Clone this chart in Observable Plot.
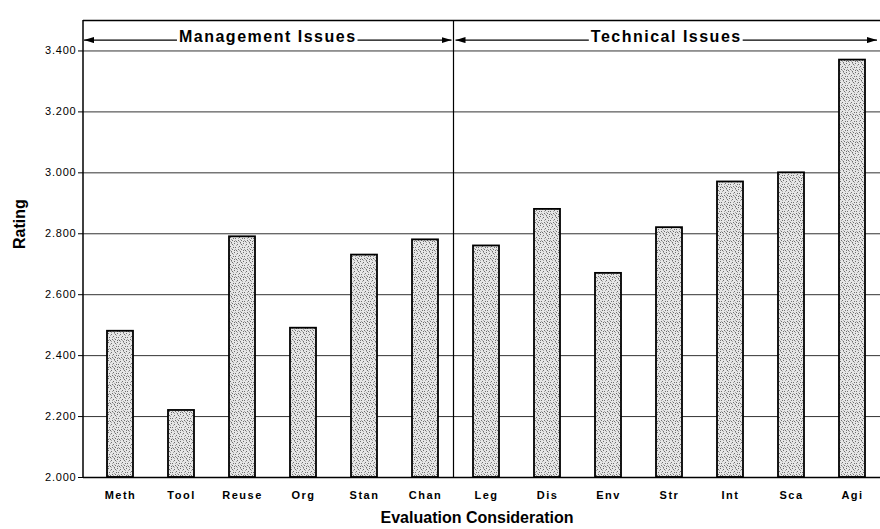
<!DOCTYPE html>
<html><head><meta charset="utf-8">
<script src="https://cdn.jsdelivr.net/npm/d3@7"></script>
<script src="https://cdn.jsdelivr.net/npm/@observablehq/plot@0.6"></script>
<style>
html,body{margin:0;padding:0;background:#fff;}
#chart svg{display:block;}
#chart g[aria-label="y-axis tick label"] text{letter-spacing:0.8px;}
#chart g[aria-label="x-axis tick label"] text{letter-spacing:1.5px;}
</style></head><body><div id="chart"></div>
<script>
const categories = ["Meth","Tool","Reuse","Org","Stan","Chan","Leg","Dis","Env","Str","Int","Sca","Agi"];
const ratings = [2.48,2.22,2.79,2.49,2.73,2.78,2.76,2.88,2.67,2.82,2.97,3.00,3.37];
const groupLabels = ["Management Issues","Technical Issues"];
const groupFirst = ["Meth","Leg"];
const groupLast = ["Chan","Agi"];
const yTicks = [2.0,2.2,2.4,2.6,2.8,3.0,3.2,3.4];
const yDomain = [2.0,3.5];
const xLabel = "Evaluation Consideration";
const yLabel = "Rating";

const data = categories.map((c,i)=>({category:c, rating:ratings[i]}));
const W = 880, H = 529, ML = 83, MT = 20, MB = 52;
const font = "Arial, 'Liberation Sans', Helvetica, sans-serif";

const chart = Plot.plot({
  width: W, height: H, marginLeft: ML, marginRight: 0, marginTop: MT, marginBottom: MB,
  style: {fontFamily: font, background: "#fff", color: "#000", overflow: "visible"},
  x: {domain: categories, range: [ML, 888], paddingInner: 0.58, paddingOuter: 0.3, axis: null},
  y: {domain: yDomain, axis: null},
  marks: [
    Plot.ruleY(yTicks, {stroke: "#333", strokeWidth: 1}),
    Plot.barY(data, {x: "category", y1: yDomain[0], y2: "rating", fill: "url(#stipple)", stroke: "#000", strokeWidth: 1.8}),
    Plot.ruleY([yDomain[0]], {stroke: "#000", strokeWidth: 1.5}),
    Plot.ruleY([yDomain[1]], {stroke: "#000", strokeWidth: 1.5}),
    Plot.axisY({ticks: yTicks, tickFormat: d3.format(".3f"), tickSize: 5, tickPadding: 2, fontSize: 11, label: null}),
    Plot.axisX({tickSize: 0, tickPadding: 14, fontSize: 11, fontWeight: "bold", label: null}),
    Plot.text([yLabel], {frameAnchor: "left", rotate: -90, dx: -64, fontSize: 16, fontWeight: "bold"}),
    Plot.text([xLabel], {frameAnchor: "bottom", lineAnchor: "middle", dy: 40, dx: -5, fontSize: 16, fontWeight: "bold", style: "letter-spacing:0.6px"})
  ]
});
document.getElementById("chart").appendChild(chart);

const xs = chart.scale("x"), ys = chart.scale("y");
const svg = d3.select(chart);
const defs = svg.insert("defs", ":first-child");
const T = 9;
const pat = defs.append("pattern").attr("id", "stipple").attr("patternUnits", "userSpaceOnUse").attr("width", T).attr("height", T);
pat.append("rect").attr("width", T).attr("height", T).attr("fill", "#e6e6e6");
const darkDots = [[0,0],[3,1],[7,1],[5,3],[1,4],[8,4],[4,6],[2,7],[6,8],[0,7],[7,6]];
const midDots = [[2,2],[6,0],[4,4],[8,2],[1,6],[5,7],[3,8],[6,5]];
darkDots.forEach(([a,b]) => pat.append("rect").attr("x", a).attr("y", b).attr("width", 1).attr("height", 1).attr("fill", "#6e6e6e"));
midDots.forEach(([a,b]) => pat.append("rect").attr("x", a).attr("y", b).attr("width", 1).attr("height", 1).attr("fill", "#a8a8a8"));
const mk = defs.append("marker").attr("id", "arrowhead").attr("viewBox", "0 0 10 6").attr("refX", 10).attr("refY", 3)
  .attr("markerWidth", 10).attr("markerHeight", 6).attr("markerUnits", "userSpaceOnUse").attr("orient", "auto-start-reverse");
mk.append("path").attr("d", "M0,0L10,3L0,6Z").attr("fill", "#000");

const yTop = ys.apply(yDomain[1]), yBot = ys.apply(yDomain[0]);
const overlay = svg.append("g");
overlay.append("line").attr("x1", ML).attr("x2", ML).attr("y1", yTop).attr("y2", yBot).attr("stroke", "#000").attr("stroke-width", 1.5);
const gap = xs.step - xs.bandwidth;
const dividers = groupFirst.slice(1).map(c => xs.apply(c) - gap / 2 - 2);
dividers.forEach(x => overlay.append("line").attr("x1", x).attr("x2", x).attr("y1", yTop).attr("y2", yBot).attr("stroke", "#000").attr("stroke-width", 1.2));
const yHead = yTop + 0.66 * (ys.apply(yTicks[yTicks.length - 1]) - yTop);
groupLabels.forEach((lab, i) => {
  const x0 = i === 0 ? ML + 1 : dividers[i - 1] + 2;
  const x1 = i === groupLabels.length - 1 ? W - 3 : dividers[i] - 2;
  const cx = (x0 + x1) / 2;
  const t = overlay.append("text").attr("x", cx).attr("y", yHead).attr("dy", "0.1em").attr("text-anchor", "middle")
    .attr("font-family", font).attr("font-size", 16).attr("font-weight", "bold").style("letter-spacing", "1.5px").text(lab);
  const w = t.node().getComputedTextLength();
  overlay.append("line").attr("x1", cx - w / 2 - 2).attr("x2", x0).attr("y1", yHead).attr("y2", yHead).attr("stroke", "#000").attr("stroke-width", 1.2).attr("marker-end", "url(#arrowhead)");
  overlay.append("line").attr("x1", cx + w / 2 + 1).attr("x2", x1).attr("y1", yHead).attr("y2", yHead).attr("stroke", "#000").attr("stroke-width", 1.2).attr("marker-end", "url(#arrowhead)");
});
</script></body></html>
